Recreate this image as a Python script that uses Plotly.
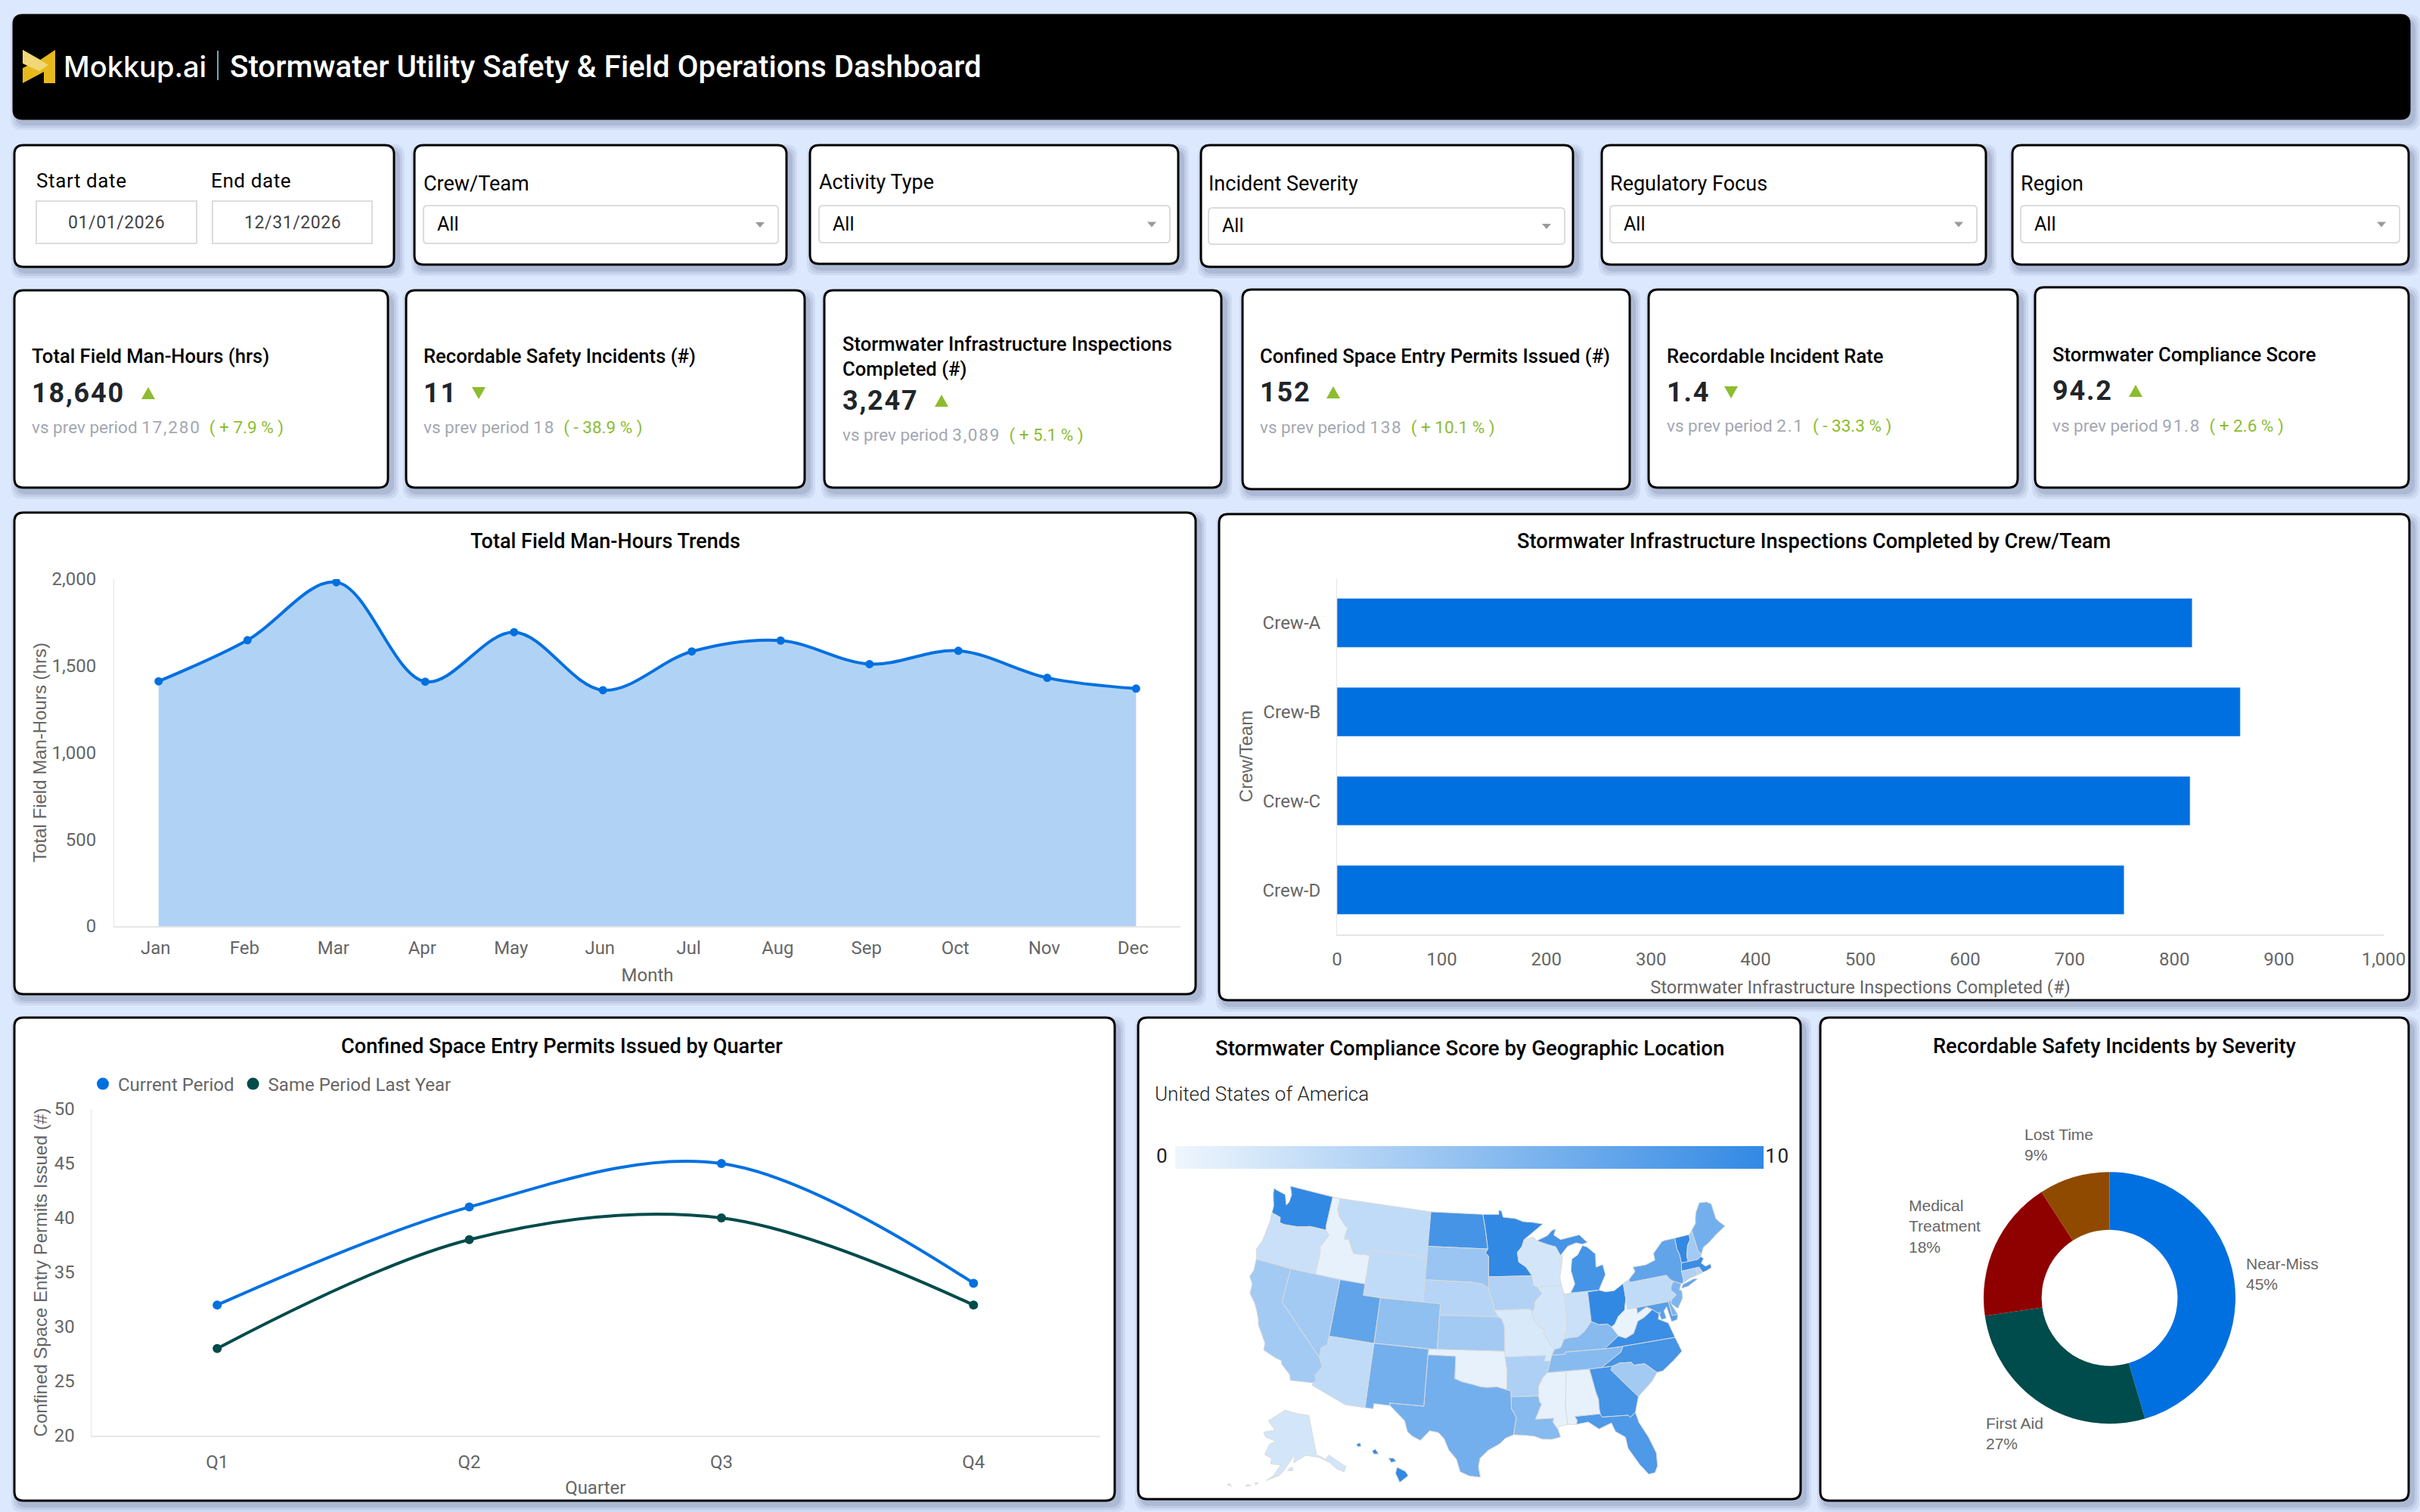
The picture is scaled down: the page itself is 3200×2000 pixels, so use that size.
import math

import plotly.graph_objects as go
from plotly.colors import sample_colorscale

W, H = 3200, 2000
PAGE = "#dce8fd"
BLUE = "#0070e0"
TEAL = "#004b4b"
GREEN = "#8dbc2f"
GREY = "#666666"

# data
months = ["Jan", "Feb", "Mar", "Apr", "May", "Jun", "Jul", "Aug", "Sep", "Oct", "Nov", "Dec"]
man_hours = [1411, 1648, 1982, 1409, 1694, 1360, 1583, 1646, 1510, 1587, 1431, 1369]

crews = ["Crew-A", "Crew-B", "Crew-C", "Crew-D"]
inspections = [817, 863, 815, 752]

quarters = ["Q1", "Q2", "Q3", "Q4"]
permits_now = [32, 41, 45, 34]
permits_last = [28, 38, 40, 32]

severity = ["Near-Miss", "First Aid", "Medical<br>Treatment", "Lost Time"]
severity_count = [5, 3, 2, 1]
severity_label_pos = [(2968, 1685), (2624, 1896), (2522, 1622), (2675, 1514)]

score_steps = [0, 2, 4, 6, 8, 10]
state_scores = {"WA": 10, "OR": 2, "ID": 0.5, "MT": 2.5, "ND": 9, "MN": 10, "WI": 1.5, "MI": 9, "SD": 4.5, "WY": 2.5,
                "NE": 3, "IA": 3.3, "IL": 1.5, "IN": 2, "OH": 10, "KS": 4, "MO": 1.2, "KY": 5.5, "WV": 0.3, "PA": 2.5,
                "NY": 7.5, "VT": 10, "NH": 4, "ME": 6.5, "MA": 9.5, "CT": 3.5, "RI": 3, "NJ": 6, "DE": 6, "MD": 8,
                "VA": 9.5, "NC": 9, "SC": 4, "GA": 9, "FL": 8.5, "AL": 0.5, "MS": 0.5, "TN": 5.5, "AR": 3.5, "LA": 5.5,
                "TX": 6.5, "OK": 0.5, "NM": 6.5, "AZ": 2.5, "UT": 7.5, "NV": 4, "CA": 4, "CO": 5, "DC": 8,
                "AK": 1.5, "HI": 10}

# simplified state outlines, lon/lat
state_outlines = {
    "WA": [[(-124.73, 48.38), (-123.1, 48.15), (-122.6, 47.3), (-122.35, 47.6), (-122.3, 48.3), (-122.76, 49.0), (-117.03, 49.0), (-117.04, 46.42), (-116.92, 45.995), (-118.98, 46.0), (-119.3, 45.93), (-120.5, 45.7), (-121.2, 45.65), (-122.2, 45.58), (-122.75, 45.65), (-122.9, 46.1), (-123.4, 46.2), (-124.05, 46.27), (-124.1, 46.9), (-124.6, 47.9)]],
    "OR": [[(-124.05, 46.27), (-123.4, 46.2), (-122.9, 46.1), (-122.75, 45.65), (-122.2, 45.58), (-121.2, 45.65), (-120.5, 45.7), (-119.3, 45.93), (-118.98, 46.0), (-116.92, 45.995), (-116.46, 45.6), (-116.85, 44.95), (-117.2, 44.45), (-117.03, 44.0), (-117.03, 42.0), (-124.2, 42.0), (-124.55, 42.85), (-124.15, 43.7), (-124.05, 44.7), (-123.95, 45.6)]],
    "ID": [[(-117.03, 49.0), (-116.05, 49.0), (-116.05, 48.0), (-115.7, 47.45), (-114.7, 46.7), (-114.35, 46.65), (-114.5, 45.55), (-113.9, 45.6), (-113.45, 44.95), (-113.0, 44.45), (-111.5, 44.55), (-111.05, 44.48), (-111.05, 42.0), (-117.03, 42.0), (-117.03, 44.0), (-117.2, 44.45), (-116.85, 44.95), (-116.46, 45.6), (-116.92, 45.995), (-117.04, 46.42)]],
    "MT": [[(-116.05, 49.0), (-104.05, 49.0), (-104.05, 45.0), (-111.05, 45.0), (-111.05, 44.48), (-111.5, 44.55), (-113.0, 44.45), (-113.45, 44.95), (-113.9, 45.6), (-114.5, 45.55), (-114.35, 46.65), (-114.7, 46.7), (-115.7, 47.45), (-116.05, 48.0)]],
    "WY": [[(-111.05, 45.0), (-104.05, 45.0), (-104.05, 41.0), (-111.05, 41.0)]],
    "ND": [[(-104.05, 49.0), (-97.23, 49.0), (-96.85, 47.5), (-96.56, 45.94), (-104.05, 45.94)]],
    "SD": [[(-104.05, 45.94), (-96.56, 45.94), (-96.85, 45.6), (-96.45, 45.3), (-96.45, 43.5), (-96.45, 42.49), (-97.2, 42.85), (-98.5, 43.0), (-104.05, 43.0)]],
    "NE": [[(-104.05, 43.0), (-98.5, 43.0), (-97.2, 42.85), (-96.45, 42.49), (-96.1, 41.7), (-95.85, 41.0), (-95.77, 40.58), (-95.31, 40.0), (-102.05, 40.0), (-102.05, 41.0), (-104.05, 41.0)]],
    "CO": [[(-109.05, 41.0), (-102.05, 41.0), (-102.05, 37.0), (-109.05, 37.0)]],
    "KS": [[(-102.05, 40.0), (-95.31, 40.0), (-94.9, 39.8), (-94.61, 39.1), (-94.62, 37.0), (-102.05, 37.0)]],
    "OK": [[(-103.0, 37.0), (-94.62, 37.0), (-94.43, 35.4), (-94.48, 33.64), (-95.5, 33.9), (-96.6, 33.85), (-97.2, 33.9), (-98.1, 34.1), (-99.2, 34.3), (-100.0, 34.56), (-100.0, 36.5), (-103.0, 36.5)]],
    "TX": [[(-103.04, 36.5), (-100.0, 36.5), (-100.0, 34.56), (-99.2, 34.3), (-98.1, 34.1), (-97.2, 33.9), (-96.6, 33.85), (-95.5, 33.9), (-94.48, 33.64), (-94.04, 33.55), (-94.04, 32.0), (-93.55, 31.2), (-93.75, 30.3), (-93.85, 29.7), (-94.7, 29.4), (-95.3, 28.9), (-96.4, 28.35), (-97.2, 27.65), (-97.35, 26.9), (-97.15, 25.96), (-98.2, 26.05), (-99.1, 26.4), (-99.5, 27.5), (-100.3, 28.3), (-100.8, 29.25), (-101.4, 29.77), (-102.3, 29.88), (-103.15, 28.98), (-104.0, 29.3), (-104.5, 29.65), (-104.9, 30.6), (-106.53, 31.78), (-106.62, 32.0), (-103.06, 32.0)]],
    "NM": [[(-109.05, 37.0), (-103.0, 37.0), (-103.04, 36.5), (-103.06, 32.0), (-106.62, 32.0), (-106.53, 31.78), (-108.2, 31.78), (-108.2, 31.33), (-109.05, 31.33)]],
    "AZ": [[(-114.05, 37.0), (-109.05, 37.0), (-109.05, 31.33), (-111.07, 31.33), (-114.8, 32.5), (-114.72, 32.72), (-114.5, 33.0), (-114.7, 33.4), (-114.15, 34.27), (-114.63, 35.0), (-114.63, 35.9), (-114.05, 36.2)]],
    "UT": [[(-114.05, 42.0), (-111.05, 42.0), (-111.05, 41.0), (-109.05, 41.0), (-109.05, 37.0), (-114.05, 37.0)]],
    "NV": [[(-120.0, 42.0), (-114.05, 42.0), (-114.05, 36.2), (-114.63, 35.9), (-114.63, 35.0), (-120.0, 39.0)]],
    "CA": [[(-124.2, 42.0), (-120.0, 42.0), (-120.0, 39.0), (-114.63, 35.0), (-114.15, 34.27), (-114.7, 33.4), (-114.5, 33.0), (-114.72, 32.72), (-117.12, 32.53), (-117.3, 33.0), (-118.4, 33.75), (-118.5, 34.03), (-119.2, 34.15), (-120.6, 34.55), (-120.65, 35.15), (-121.9, 36.6), (-122.0, 36.95), (-122.5, 37.75), (-122.95, 38.3), (-123.75, 39.0), (-123.8, 39.8), (-124.35, 40.4), (-124.1, 41.0)]],
    "MN": [[(-97.23, 49.0), (-95.15, 49.0), (-95.15, 49.38), (-94.8, 49.3), (-94.6, 48.75), (-93.0, 48.6), (-92.0, 48.3), (-90.8, 48.2), (-89.5, 48.0), (-92.0, 46.7), (-92.3, 46.1), (-92.9, 45.6), (-92.75, 44.75), (-91.9, 44.3), (-91.22, 43.5), (-96.45, 43.5), (-96.45, 45.3), (-96.85, 45.6), (-96.56, 45.94), (-96.85, 47.5)]],
    "IA": [[(-96.45, 43.5), (-91.22, 43.5), (-91.1, 42.7), (-90.65, 42.5), (-90.15, 41.9), (-91.05, 41.2), (-91.1, 40.7), (-91.42, 40.38), (-91.73, 40.61), (-95.77, 40.58), (-95.85, 41.0), (-96.1, 41.7), (-96.45, 42.49)]],
    "MO": [[(-95.77, 40.58), (-91.73, 40.61), (-91.42, 40.38), (-91.5, 40.0), (-90.7, 39.0), (-90.2, 38.8), (-90.2, 38.4), (-89.5, 37.3), (-89.15, 37.0), (-89.5, 36.5), (-89.7, 36.0), (-90.37, 36.0), (-90.15, 36.5), (-94.62, 36.5), (-94.62, 37.0), (-94.61, 39.1), (-94.9, 39.8), (-95.31, 40.0)]],
    "AR": [[(-94.62, 36.5), (-90.15, 36.5), (-90.37, 36.0), (-89.7, 36.0), (-90.1, 35.0), (-90.6, 34.6), (-91.1, 33.9), (-91.17, 33.0), (-94.04, 33.02), (-94.04, 33.55), (-94.48, 33.64), (-94.43, 35.4)]],
    "LA": [[(-94.04, 33.02), (-91.17, 33.0), (-91.1, 32.5), (-90.9, 32.3), (-91.6, 31.0), (-89.73, 31.0), (-89.85, 30.65), (-89.55, 30.2), (-89.4, 30.0), (-89.2, 29.3), (-90.1, 29.15), (-91.0, 29.2), (-91.8, 29.5), (-92.6, 29.6), (-93.85, 29.7), (-93.75, 30.3), (-93.55, 31.2), (-94.04, 32.0)]],
    "MS": [[(-91.17, 33.0), (-91.1, 33.9), (-90.6, 34.6), (-90.1, 35.0), (-88.2, 35.0), (-88.1, 34.9), (-88.47, 31.9), (-88.4, 30.35), (-89.55, 30.2), (-89.85, 30.65), (-89.73, 31.0), (-91.6, 31.0), (-90.9, 32.3), (-91.1, 32.5)]],
    "AL": [[(-88.2, 35.0), (-85.6, 35.0), (-85.18, 32.87), (-85.0, 32.3), (-85.05, 31.55), (-85.0, 31.0), (-87.6, 31.0), (-87.4, 30.65), (-87.5, 30.3), (-88.4, 30.35), (-88.47, 31.9), (-88.1, 34.9)]],
    "TN": [[(-90.1, 35.0), (-89.7, 36.0), (-89.5, 36.5), (-88.05, 36.5), (-88.07, 36.68), (-83.68, 36.6), (-81.68, 36.59), (-82.0, 36.1), (-84.32, 35.0), (-85.6, 35.0)]],
    "KY": [[(-89.5, 36.5), (-89.15, 37.0), (-88.5, 37.1), (-88.05, 37.8), (-87.5, 37.9), (-86.5, 37.9), (-85.7, 38.3), (-84.8, 39.1), (-84.0, 38.75), (-83.0, 38.7), (-82.6, 38.4), (-82.0, 37.55), (-83.68, 36.6), (-88.07, 36.68), (-88.05, 36.5)]],
    "IL": [[(-90.65, 42.5), (-87.8, 42.5), (-87.55, 41.7), (-87.53, 39.35), (-87.6, 38.7), (-88.05, 37.8), (-88.5, 37.1), (-89.15, 37.0), (-89.5, 37.3), (-90.2, 38.4), (-90.2, 38.8), (-90.7, 39.0), (-91.5, 40.0), (-91.42, 40.38), (-91.1, 40.7), (-91.05, 41.2), (-90.15, 41.9)]],
    "IN": [[(-87.55, 41.7), (-86.8, 41.76), (-84.8, 41.76), (-84.8, 39.1), (-85.7, 38.3), (-86.5, 37.9), (-87.5, 37.9), (-88.05, 37.8), (-87.6, 38.7), (-87.53, 39.35)]],
    "OH": [[(-84.8, 41.7), (-83.45, 41.73), (-82.7, 41.5), (-81.7, 41.5), (-80.52, 42.0), (-80.52, 40.64), (-80.85, 39.7), (-81.7, 39.2), (-82.2, 38.6), (-82.6, 38.4), (-83.0, 38.7), (-84.0, 38.75), (-84.8, 39.1)]],
    "WV": [[(-82.6, 38.4), (-82.2, 38.6), (-81.7, 39.2), (-80.85, 39.7), (-80.52, 40.64), (-80.52, 39.72), (-79.48, 39.72), (-79.48, 39.2), (-78.9, 39.45), (-78.35, 39.62), (-77.75, 39.32), (-78.35, 39.0), (-78.9, 38.75), (-79.6, 38.55), (-80.3, 37.55), (-81.25, 37.25), (-82.0, 37.55)]],
    "VA": [[(-83.68, 36.6), (-82.0, 37.55), (-81.25, 37.25), (-80.3, 37.55), (-79.6, 38.55), (-78.9, 38.75), (-78.35, 39.0), (-77.75, 39.32), (-77.1, 38.85), (-77.3, 38.4), (-76.3, 37.9), (-76.0, 37.0), (-75.9, 36.55), (-81.68, 36.59)]],
    "NC": [[(-84.32, 35.0), (-82.0, 36.1), (-81.68, 36.59), (-75.9, 36.55), (-75.5, 35.25), (-76.5, 34.65), (-77.9, 33.9), (-78.55, 33.86), (-79.67, 34.8), (-80.8, 34.82), (-81.05, 35.1), (-82.3, 35.2), (-83.1, 35.0)]],
    "SC": [[(-83.1, 35.0), (-82.3, 35.2), (-81.05, 35.1), (-80.8, 34.82), (-79.67, 34.8), (-78.55, 33.86), (-79.2, 33.2), (-80.3, 32.5), (-80.9, 32.05), (-81.4, 32.6), (-82.2, 33.5), (-83.35, 34.7)]],
    "GA": [[(-85.6, 35.0), (-84.32, 35.0), (-83.1, 35.0), (-83.35, 34.7), (-82.2, 33.5), (-81.4, 32.6), (-80.9, 32.05), (-81.45, 30.72), (-82.05, 30.36), (-82.2, 30.57), (-84.86, 30.7), (-85.0, 31.0), (-85.05, 31.55), (-85.0, 32.3), (-85.18, 32.87)]],
    "FL": [[(-87.6, 31.0), (-85.0, 31.0), (-84.86, 30.7), (-82.2, 30.57), (-82.05, 30.36), (-81.45, 30.72), (-81.25, 29.8), (-80.55, 28.4), (-80.05, 26.9), (-80.15, 25.75), (-80.5, 25.2), (-81.1, 25.15), (-81.8, 26.1), (-82.7, 27.7), (-82.8, 28.7), (-83.7, 29.3), (-84.0, 30.1), (-85.3, 29.7), (-86.3, 30.4), (-87.5, 30.3), (-87.4, 30.65)]],
    "MI": [[(-86.8, 41.76), (-84.8, 41.76), (-83.45, 41.73), (-83.1, 42.2), (-82.45, 43.0), (-82.6, 43.9), (-83.45, 43.75), (-83.3, 44.9), (-84.2, 45.6), (-84.75, 45.78), (-85.5, 45.0), (-86.25, 44.7), (-86.5, 43.7), (-86.2, 42.5)],
           [(-90.4, 46.55), (-89.0, 46.95), (-88.4, 47.37), (-87.9, 47.47), (-88.2, 46.95), (-87.4, 46.5), (-85.0, 46.75), (-84.6, 46.45), (-84.1, 46.0), (-84.75, 45.9), (-85.5, 46.08), (-86.6, 45.85), (-87.6, 45.1), (-88.1, 45.9), (-89.1, 46.15)]],
    "WI": [[(-92.0, 46.7), (-90.8, 46.9), (-90.4, 46.55), (-89.1, 46.15), (-88.1, 45.9), (-87.6, 45.1), (-87.9, 44.6), (-87.35, 45.15), (-87.5, 44.5), (-87.9, 43.2), (-87.8, 42.5), (-90.65, 42.5), (-91.1, 42.7), (-91.22, 43.5), (-91.9, 44.3), (-92.75, 44.75), (-92.9, 45.6), (-92.3, 46.1)]],
    "PA": [[(-80.52, 42.0), (-79.76, 42.27), (-79.76, 42.0), (-75.35, 42.0), (-75.05, 41.6), (-74.7, 41.36), (-75.1, 40.95), (-75.2, 40.65), (-74.72, 40.15), (-75.4, 39.8), (-75.79, 39.72), (-79.48, 39.72), (-80.52, 39.72), (-80.52, 40.64)]],
    "NY": [[(-79.76, 42.27), (-78.9, 42.85), (-79.05, 43.27), (-77.5, 43.25), (-76.3, 43.5), (-76.3, 44.1), (-75.0, 44.95), (-74.7, 45.0), (-73.35, 45.0), (-73.4, 44.0), (-73.25, 43.55), (-73.27, 42.75), (-73.5, 42.05), (-73.5, 41.3), (-73.65, 41.0), (-73.9, 41.0), (-74.7, 41.36), (-75.05, 41.6), (-75.35, 42.0), (-79.76, 42.0)],
           [(-74.0, 40.6), (-73.7, 40.9), (-72.3, 41.15), (-71.9, 41.05), (-73.2, 40.63)]],
    "VT": [[(-73.35, 45.0), (-71.5, 45.0), (-71.6, 44.5), (-72.05, 44.1), (-72.45, 43.2), (-72.46, 42.73), (-73.27, 42.75), (-73.25, 43.55), (-73.4, 44.0)]],
    "NH": [[(-71.5, 45.0), (-71.08, 45.3), (-70.98, 43.4), (-70.7, 43.07), (-70.85, 42.87), (-71.3, 42.7), (-72.46, 42.73), (-72.45, 43.2), (-72.05, 44.1), (-71.6, 44.5)]],
    "ME": [[(-71.08, 45.3), (-70.4, 45.8), (-70.25, 46.2), (-70.0, 46.7), (-69.23, 47.46), (-68.3, 47.35), (-67.8, 47.07), (-67.8, 45.7), (-67.45, 45.3), (-67.0, 44.85), (-68.5, 44.3), (-69.5, 43.85), (-70.25, 43.6), (-70.7, 43.07), (-70.98, 43.4)]],
    "MA": [[(-73.5, 42.05), (-73.27, 42.75), (-72.46, 42.73), (-71.3, 42.7), (-70.85, 42.87), (-70.6, 42.65), (-71.0, 42.3), (-70.6, 41.95), (-70.0, 42.05), (-70.0, 41.7), (-70.65, 41.55), (-71.12, 41.5), (-71.38, 42.02), (-71.8, 42.02)]],
    "CT": [[(-73.5, 42.05), (-71.8, 42.02), (-71.8, 41.4), (-72.9, 41.25), (-73.65, 41.0), (-73.5, 41.3)]],
    "RI": [[(-71.8, 42.02), (-71.38, 42.02), (-71.12, 41.5), (-71.8, 41.4)]],
    "NJ": [[(-74.7, 41.36), (-73.9, 41.0), (-74.25, 40.5), (-74.0, 40.4), (-74.1, 39.75), (-74.9, 38.95), (-75.55, 39.5), (-75.4, 39.8), (-74.72, 40.15), (-75.2, 40.65), (-75.1, 40.95)]],
    "DE": [[(-75.79, 39.72), (-75.4, 39.8), (-75.55, 39.5), (-75.05, 38.45), (-75.7, 38.46)]],
    "MD": [[(-79.48, 39.72), (-75.79, 39.72), (-75.7, 38.46), (-75.05, 38.45), (-75.25, 38.03), (-75.9, 37.95), (-76.1, 39.3), (-76.5, 39.0), (-76.4, 38.35), (-76.95, 38.3), (-77.1, 38.85), (-77.75, 39.32), (-78.35, 39.62), (-78.9, 39.45), (-79.48, 39.2)]],
    "DC": [[(-77.12, 38.93), (-77.04, 39.0), (-76.91, 38.89), (-77.04, 38.79)]],
    "AK": [[(-141.0, 69.65), (-141.0, 60.3), (-139.5, 59.9), (-137.5, 58.9), (-135.5, 59.7), (-133.5, 58.4), (-130.0, 55.9), (-131.5, 55.0), (-134.0, 56.2), (-136.0, 58.0), (-140.0, 59.7), (-146.0, 60.7), (-149.0, 60.0), (-151.8, 59.2), (-151.0, 61.0), (-153.5, 59.5), (-156.0, 57.5), (-158.0, 56.2), (-163.0, 54.8), (-160.5, 56.0), (-157.5, 58.7), (-162.0, 58.7), (-162.0, 60.0), (-165.4, 60.6), (-164.0, 63.0), (-161.0, 64.0), (-166.5, 64.6), (-168.1, 65.6), (-162.0, 66.5), (-166.7, 68.4), (-156.7, 71.3), (-148.0, 70.4)],
           [(-154.6, 57.4), (-152.4, 57.4), (-152.4, 58.2), (-153.6, 58.0)],
           [(-166.9, 53.4), (-166.0, 53.9), (-167.2, 53.9)],
           [(-170.5, 52.6), (-168.5, 53.0), (-169.8, 53.1)],
           [(-177.2, 51.7), (-175.6, 51.7), (-176.5, 52.1)]],
    "HI": [[(-155.9, 20.2), (-155.1, 19.85), (-154.85, 19.5), (-155.65, 18.95), (-156.05, 19.7)],
           [(-156.7, 20.95), (-156.25, 20.95), (-156.0, 20.7), (-156.45, 20.6)],
           [(-158.25, 21.55), (-157.95, 21.7), (-157.65, 21.3), (-158.1, 21.3)],
           [(-159.75, 22.1), (-159.4, 22.22), (-159.3, 21.95), (-159.6, 21.9)]],
}

kpi_titles = ["Total Field Man-Hours (hrs)", "Recordable Safety Incidents (#)",
              "Stormwater Infrastructure Inspections<br>Completed (#)",
              "Confined Space Entry Permits Issued (#)", "Recordable Incident Rate",
              "Stormwater Compliance Score"]
kpi_values = ["18,640", "11", "3,247", "152", "1.4", "94.2"]
kpi_prev = ["17,280", "18", "3,089", "138", "2.1", "91.8"]
kpi_delta = ["+ 7.9 %", "- 38.9 %", "+ 5.1 %", "+ 10.1 %", "- 33.3 %", "+ 2.6 %"]
kpi_up = [True, False, True, True, False, True]

filter_names = ["Crew/Team", "Activity Type", "Incident Severity", "Regulatory Focus", "Region"]

MAP_SCALE = ["#eff6fd", "#3289e4"]


def px(x):
    return x / W


def py(y):
    return 1 - y / H


def albers(lon, lat, lon0, lat0, p1, p2):
    s1, s2 = math.sin(math.radians(p1)), math.sin(math.radians(p2))
    n = (s1 + s2) / 2
    c = math.cos(math.radians(p1)) ** 2 + 2 * n * s1
    rho0 = math.sqrt(c - 2 * n * math.sin(math.radians(lat0))) / n
    rho = math.sqrt(c - 2 * n * math.sin(math.radians(lat))) / n
    theta = math.radians(n * (lon - lon0))
    return rho * math.sin(theta), rho0 - rho * math.cos(theta)


# pixel placement of the map, fitted to the reference
MAP_BOX = (1520, 1555, 2370, 1975)
MAP_X0, MAP_Y0, MAP_SX, MAP_SY = 1685 + 0.3307 * 872, 1572 + 0.2412 * 862, 872, 862
AK_SCALE = 330
AK_AX, AK_AY = albers(-141.0, 60.3, -154, 50, 55, 65)


def project(code, lon, lat):
    # everything ends up in the map axis units, the two insets are placed in pixels first
    if code == "AK":
        ax, ay = albers(lon, lat, -154, 50, 55, 65)
        x_pix, y_pix = 1741 + (ax - AK_AX) * AK_SCALE, 1925 - (ay - AK_AY) * AK_SCALE
    elif code == "HI":
        x_pix, y_pix = 1797 + (lon + 159.5) * 14, 1912 + (22 - lat) * 16
    else:
        return albers(lon, lat, -96, 37.5, 29.5, 45.5)
    return (x_pix - MAP_X0) / MAP_SX, (MAP_Y0 - y_pix) / MAP_SY


def note(x, y, text, size, color="#000000", anchor="left", family="Roboto", weight=400):
    return dict(x=px(x), y=py(y), xref="paper", yref="paper", text=text, showarrow=False, xanchor=anchor,
                yanchor="middle", align=anchor, font=dict(family=family, size=size, color=color, weight=weight))


def poly(points, fill, line=None, width=0):
    path = "M" + " L".join(f"{px(x):.5f},{py(y):.5f}" for x, y in points) + " Z"
    return dict(type="path", xref="paper", yref="paper", path=path, fillcolor=fill, layer="below",
                line=dict(color=line or fill, width=width))


def rounded(x0, y0, x1, y1, r, fill, line=None, width=0, opacity=1):
    p = (f"M{px(x0 + r)},{py(y0)} L{px(x1 - r)},{py(y0)} Q{px(x1)},{py(y0)} {px(x1)},{py(y0 + r)} "
         f"L{px(x1)},{py(y1 - r)} Q{px(x1)},{py(y1)} {px(x1 - r)},{py(y1)} "
         f"L{px(x0 + r)},{py(y1)} Q{px(x0)},{py(y1)} {px(x0)},{py(y1 - r)} "
         f"L{px(x0)},{py(y0 + r)} Q{px(x0)},{py(y0)} {px(x0 + r)},{py(y0)} Z")
    return dict(type="path", xref="paper", yref="paper", path=p, fillcolor=fill, layer="below", opacity=opacity,
                line=dict(color=line or "rgba(0,0,0,0)", width=width))


def card(x0, y0, x1, y1, fill="#ffffff"):
    out = []
    for grow, alpha in [(9, 0.07), (6, 0.09), (3, 0.12)]:
        out.append(rounded(x0 - grow + 5, y0 - grow + 8, x1 + grow + 5, y1 + grow + 6, 14, f"rgba(40,60,100,{alpha})"))
    out.append(rounded(x0, y0, x1, y1, 12, fill, "#000000", 3))
    return out


shapes = []
notes = []

# header
shapes += card(18, 20, 3186, 157, "#000000")
shapes.append(poly([(30, 66), (73, 90), (73, 66), (73, 110), (58, 110), (58, 95), (30, 110), (30, 90), (42, 84), (30, 78)], "#e8b91c"))
shapes.append(poly([(73, 66), (73, 110), (58, 110), (58, 88), (52, 80)], "#e8b91c"))
shapes.append(poly([(30, 66), (64, 86), (52, 94), (30, 84)], "#f0d878"))
shapes.append(dict(type="line", xref="paper", yref="paper", x0=px(288), x1=px(288), y0=py(67), y1=py(106), layer="below",
                   line=dict(color="#9fdcf5", width=1.5)))
notes.append(note(82, 88, "Mokkup.ai", 38, "#ffffff", family="Inter", weight=500))
notes.append(note(302, 88, "Stormwater Utility Safety &amp; Field Operations Dashboard", 40.3, "#ffffff", weight=500))

# date filter
shapes += card(19, 192, 521, 353)
notes.append(note(46, 239, "Start date", 26))
notes.append(note(277, 239, "End date", 26))
for x0, x1, txt in [(48, 260, "01/01/2026"), (281, 492, "12/31/2026")]:
    shapes.append(dict(type="rect", xref="paper", yref="paper", x0=px(x0), x1=px(x1), y0=py(266), y1=py(322),
                       layer="below", line=dict(color="#dcdcdc", width=2), fillcolor="#ffffff"))
    notes.append(note((x0 + x1) / 2, 295, txt, 23, "#444444", anchor="center"))

# dropdown filters: card, label, box
filter_cards = [(548, 192, 1040, 350), (1071, 192, 1558, 349), (1588, 192, 2080, 353), (2118, 192, 2626, 350), (2661, 192, 3185, 350)]
filter_boxes = [(560, 272, 1029, 322), (1083, 272, 1547, 321), (1598, 275, 2069, 323), (2129, 272, 2614, 321), (2672, 272, 3173, 321)]
filter_label_y = [243, 241, 243, 243, 243]
for name, c, b, label_y in zip(filter_names, filter_cards, filter_boxes, filter_label_y):
    shapes += card(*c)
    shapes.append(rounded(b[0], b[1], b[2], b[3], 5, "#ffffff", "#dcdcdc", 2))
    notes.append(note(b[0] - 2, label_y, name, 27))
    notes.append(note(b[0] + 16, (b[1] + b[3]) / 2, "All", 25))
    ax = b[2] - 24
    ay = (b[1] + b[3]) / 2
    shapes.append(poly([(ax - 6, ay - 3), (ax + 6, ay - 3), (ax, ay + 4)], "#9a9a9a"))

# kpi cards
kpi_cards = [(19, 384, 513, 645), (537, 384, 1064, 645), (1090, 384, 1615, 645), (1643, 383, 2155, 647), (2180, 383, 2668, 645), (2691, 380, 3185, 645)]
kpi_text_x = [40, 558, 1112, 1664, 2202, 2712]
kpi_title_y = [471, 471, 471, 471, 471, 469]
kpi_value_y = [520, 520, 530, 519, 519, 517]
kpi_vs_y = [565, 565, 575, 565, 563, 563]
kpi_tri_x = [196, 633, 1245, 1763, 2289, 2824]
for i, c in enumerate(kpi_cards):
    shapes += card(*c)
    x = kpi_text_x[i]
    notes.append(note(x, kpi_title_y[i], kpi_titles[i], 25.6, weight=500))
    notes.append(note(x, kpi_value_y[i], kpi_values[i], 36, "#212529", weight=700))
    notes.append(note(x, kpi_vs_y[i], f'vs prev period <span style="color:#a3a8b2">{kpi_prev[i]}</span>  '
                                      f'<span style="color:{GREEN}">( {kpi_delta[i]} )</span>', 22.5, "#a3a8b2"))
    tx, ty = kpi_tri_x[i], kpi_value_y[i]
    if kpi_up[i]:
        shapes.append(poly([(tx - 9, ty + 8), (tx + 9, ty + 8), (tx, ty - 8)], GREEN))
    else:
        shapes.append(poly([(tx - 9, ty - 8), (tx + 9, ty - 8), (tx, ty + 8)], GREEN))

# chart panels
shapes += card(19, 678, 1581, 1315)
shapes += card(1612, 680, 3186, 1323)
shapes += card(19, 1346, 1474, 1985)
shapes += card(1505, 1346, 2381, 1983)
shapes += card(2407, 1346, 3185, 1985)
notes.append(note(800, 716, "Total Field Man-Hours Trends", 27, anchor="center", weight=500))
notes.append(note(2398, 716, "Stormwater Infrastructure Inspections Completed by Crew/Team", 27.2, anchor="center", weight=500))
notes.append(note(743, 1384, "Confined Space Entry Permits Issued by Quarter", 27.2, anchor="center", weight=500))
notes.append(note(1943, 1386, "Stormwater Compliance Score by Geographic Location", 27.6, anchor="center", weight=500))
notes.append(note(2796, 1384, "Recordable Safety Incidents by Severity", 27.2, anchor="center", weight=500))
notes.append(note(1525, 1447, "United States of America", 26, "#222222", weight=300))
notes.append(note(1537, 1529, "0", 26, "#222222", anchor="center"))
notes.append(note(2350, 1529, "10", 26, "#222222", anchor="center"))

fig = go.Figure()

fig.add_trace(go.Scatter(x=months, y=man_hours, mode="lines+markers", showlegend=False,
                         line=dict(color=BLUE, width=4, shape="spline", smoothing=1), marker=dict(color=BLUE, size=11),
                         fill="tozeroy", fillcolor="rgba(0,112,224,0.31)", xaxis="x", yaxis="y"))
fig.add_trace(go.Bar(x=inspections, y=crews, orientation="h", marker=dict(color=BLUE), showlegend=False,
                     xaxis="x2", yaxis="y2"))
for name, vals, color in [("Current Period", permits_now, BLUE), ("Same Period Last Year", permits_last, TEAL)]:
    fig.add_trace(go.Scatter(x=quarters, y=vals, mode="lines+markers", showlegend=False,
                             line=dict(color=color, width=4, shape="spline", smoothing=1), marker=dict(color=color, size=12),
                             xaxis="x3", yaxis="y3"))
    fig.add_trace(go.Scatter(x=[None], y=[None], mode="markers", name=name, marker=dict(color=color, size=20),
                             xaxis="x3", yaxis="y3"))

fig.add_trace(go.Pie(labels=[s.replace("<br>", " ") for s in severity], values=severity_count, sort=False, direction="clockwise",
                     hole=0.54, textinfo="none", showlegend=False, marker=dict(colors=[BLUE, TEAL, "#8f0000", "#8f4a00"]),
                     domain=dict(x=[px(2623), px(2956)], y=[py(1883.5), py(1550)])))
total = sum(severity_count)
for name, count, pos in zip(severity, severity_count, severity_label_pos):
    notes.append(note(pos[0], pos[1], f"{name}<br>{count / total:.0%}", 21, GREY, family="Liberation Sans"))

# the geo subplot needs a topojson from the network, so the states are filled polygons on plain axes
for code, rings in state_outlines.items():
    xs, ys = [], []
    for ring in rings:
        for lon, lat in ring + ring[:1]:
            mx, my = project(code, lon, lat)
            xs.append(mx)
            ys.append(my)
        xs.append(None)
        ys.append(None)
    fig.add_trace(go.Scatter(x=xs, y=ys, mode="lines", fill="toself", name=code, showlegend=False,
                             fillcolor=sample_colorscale(MAP_SCALE, state_scores[code] / 10)[0],
                             line=dict(color="#dadada", width=1), xaxis="x4", yaxis="y4"))

# gradient bar: a colorbar would push the margins, a one row heatmap doesn't
fig.add_trace(go.Heatmap(z=[score_steps], x=score_steps, zmin=0, zmax=10, zsmooth="best", colorscale=MAP_SCALE,
                         showscale=False, hoverinfo="skip", xaxis="x5", yaxis="y5"))

tick_font = dict(family="Roboto", size=24, color=GREY)
title_sans = dict(family="Liberation Sans", size=24, color=GREY)
title_rob = dict(family="Roboto", size=24, color=GREY)

fig.update_layout(
    width=W, height=H, margin=dict(l=0, r=0, t=0, b=0, autoexpand=False), paper_bgcolor=PAGE, plot_bgcolor="rgba(0,0,0,0)",
    shapes=shapes, annotations=notes,
    xaxis=dict(domain=[px(151), px(1561)], range=[-0.5, 11.5], type="category", tickfont=tick_font, anchor="y", ticklabelshift=-4,
               ticks="outside", ticklen=6, tickcolor="rgba(0,0,0,0)", showgrid=False, showline=True, linecolor="#e6e6e6", linewidth=2,
               title=dict(text="Month", font=title_rob, standoff=14)),
    yaxis=dict(domain=[py(1225), py(766)], range=[0, 2000], dtick=500, tickformat=",", tickfont=tick_font, anchor="x",
               ticks="outside", ticklen=18, tickcolor="rgba(0,0,0,0)", showgrid=False, zeroline=False, showline=True, linecolor="#e6e6e6", linewidth=1,
               title=dict(text="Total Field Man-Hours (hrs)", font=title_sans, standoff=0)),
    xaxis2=dict(domain=[px(1768), px(3152)], range=[0, 1000], dtick=100, tickformat=",", tickfont=tick_font, anchor="y2",
                ticks="outside", ticklen=10, tickcolor="rgba(0,0,0,0)", showgrid=False, zeroline=False, showline=True, linecolor="#e6e6e6", linewidth=2,
                title=dict(text="Stormwater Infrastructure Inspections Completed (#)", font=dict(family="Roboto", size=23.6, color=GREY), standoff=16)),
    yaxis2=dict(domain=[py(1236), py(765)], autorange="reversed", tickfont=tick_font, anchor="x2", type="category",
                ticks="outside", ticklen=16, tickcolor="rgba(0,0,0,0)", showgrid=False, showline=True, linecolor="#e6e6e6", linewidth=1,
                title=dict(text="Crew/Team", font=title_sans, standoff=6)),
    bargap=0.45,
    xaxis3=dict(domain=[px(120.5), px(1454)], range=[-0.5, 3.5], type="category", tickfont=tick_font, anchor="y3",
                ticks="outside", ticklen=12, tickcolor="rgba(0,0,0,0)", showgrid=False, showline=True, linecolor="#e6e6e6", linewidth=2,
                title=dict(text="Quarter", font=title_rob, standoff=12)),
    yaxis3=dict(domain=[py(1899), py(1467)], range=[20, 50], dtick=5, tickfont=tick_font, anchor="x3",
                ticks="outside", ticklen=16, tickcolor="rgba(0,0,0,0)", showgrid=False, zeroline=False, showline=True, linecolor="#e6e6e6", linewidth=1,
                title=dict(text="Confined Space Entry Permits Issued (#)", font=title_sans, standoff=2)),
    xaxis4=dict(domain=[px(MAP_BOX[0]), px(MAP_BOX[2])], range=[(MAP_BOX[0] - MAP_X0) / MAP_SX, (MAP_BOX[2] - MAP_X0) / MAP_SX],
                visible=False, anchor="y4"),
    yaxis4=dict(domain=[py(MAP_BOX[3]), py(MAP_BOX[1])], range=[(MAP_Y0 - MAP_BOX[3]) / MAP_SY, (MAP_Y0 - MAP_BOX[1]) / MAP_SY],
                visible=False, anchor="x4"),
    xaxis5=dict(domain=[px(1554), px(2332)], range=[0, 10], visible=False, anchor="y5"),
    yaxis5=dict(domain=[py(1546), py(1516)], visible=False, anchor="x5"),
    legend=dict(orientation="h", x=px(116), xanchor="left", y=py(1434), yanchor="middle", font=dict(family="Roboto", size=24, color=GREY),
                itemsizing="trace", bgcolor="rgba(0,0,0,0)"),
)

# body margin off, and the spaced-out digits and date labels
post = """
document.body.style.margin = '0';
var gd = document.getElementById('{plot_id}');
function spaceDigits() {
  gd.querySelectorAll('.annotation-text, .annotation-text tspan').forEach(function (el) {
    var t = el.textContent.trim();
    if (/^[\\d.,]+$/.test(t)) { el.style.letterSpacing = '1.8px'; }
    if (/date$|^\\d+\\/\\d+/.test(t)) { el.style.letterSpacing = '0.6px'; }
  });
}
spaceDigits();
gd.on('plotly_afterplot', spaceDigits);
"""
fig.write_html("out.html", post_script=post, config=dict(displayModeBar=False))
